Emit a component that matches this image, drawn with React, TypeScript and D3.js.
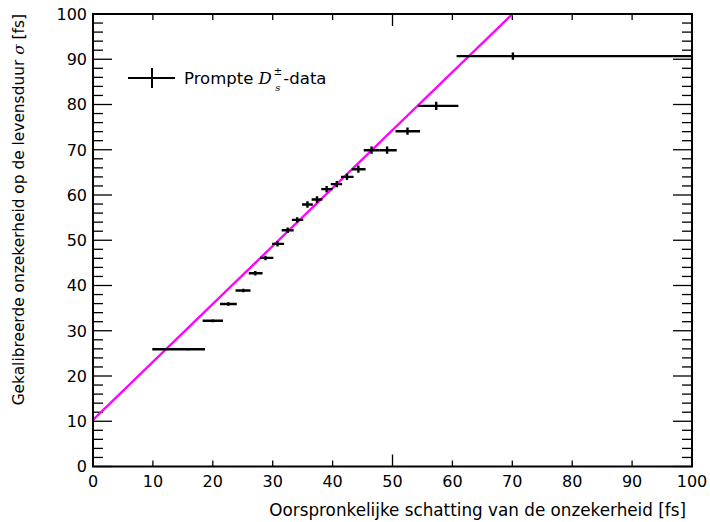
import React from "react";
import * as d3 from "d3";

const xCenter = [15.8, 20.0, 22.6, 25.1, 27.1, 28.8, 30.8, 32.5, 34.1, 35.8, 37.4, 39.0, 40.7, 42.4, 44.3, 46.5, 49.1, 52.5, 57.3, 70.1];
const xLow = [9.9, 18.3, 21.2, 23.8, 26.0, 27.9, 29.9, 31.5, 33.2, 34.9, 36.5, 38.1, 39.7, 41.4, 43.2, 45.2, 47.8, 50.5, 54.3, 60.7];
const xHigh = [18.7, 21.7, 24.0, 26.3, 28.3, 30.1, 31.9, 33.5, 35.1, 36.7, 38.3, 40.0, 41.6, 43.5, 45.5, 47.8, 50.7, 54.6, 61.0, 100];
const yVal = [25.9, 32.2, 35.9, 38.9, 42.7, 46.1, 49.2, 52.2, 54.5, 57.9, 59.0, 61.3, 62.4, 64.0, 65.7, 69.9, 69.9, 74.1, 79.7, 90.7];
const yErr = [0.2, 0.3, 0.4, 0.4, 0.5, 0.5, 0.6, 0.6, 0.6, 0.7, 0.7, 0.7, 0.7, 0.7, 0.8, 0.8, 0.8, 0.8, 0.9, 0.8];

const fitIntercept = 10.3;
const fitSlope = 1.281;

const xTicks = [0, 10, 20, 30, 40, 50, 60, 70, 80, 90, 100];
const yTicks = [0, 10, 20, 30, 40, 50, 60, 70, 80, 90, 100];
const yMinorTicks = d3.range(0, 101, 2);

const xTitle = "Oorspronkelijke schatting van de onzekerheid [fs]";
const yTitle = "Gekalibreerde onzekerheid op de levensduur ";

export default function App() {
  const L = 93, R = 692, T = 14, B = 466.5;
  const x = d3.scaleLinear().domain([0, 100]).range([L, R]);
  const y = d3.scaleLinear().domain([0, 100]).range([B, T]);
  const font = "DejaVu Sans, sans-serif";
  const fs = 16;

  const xEnd = (100 - fitIntercept) / fitSlope;
  const fitLine = d3.line<number>().x((d) => x(d)).y((d) => y(fitIntercept + fitSlope * d))([0, xEnd]);

  return (
    <svg width={710} height={522} style={{ position: "absolute", left: 0, top: 0, background: "#fff" }} fontFamily={font}>
      <defs>
        <clipPath id="plotclip">
          <rect x={L} y={T} width={R - L} height={B - T} />
        </clipPath>
      </defs>
      <rect x={0} y={0} width={710} height={522} fill="#fff" />
      {yMinorTicks.map((t) => {
        const major = t % 10 === 0;
        const len = major ? 19 : 10;
        return (
          <g key={"ym" + t}>
            <line x1={L} x2={L + len} y1={y(t)} y2={y(t)} stroke="#000" strokeWidth={1.3} />
            <line x1={R} x2={R - len} y1={y(t)} y2={y(t)} stroke="#000" strokeWidth={1.3} />
          </g>
        );
      })}
      {xTicks.map((t) => {
        const len = t % 50 === 0 ? 12 : 6;
        return (
          <g key={"xt" + t}>
            <line x1={x(t)} x2={x(t)} y1={B} y2={B - len} stroke="#000" strokeWidth={1.3} />
            <line x1={x(t)} x2={x(t)} y1={T} y2={T + len} stroke="#000" strokeWidth={1.3} />
          </g>
        );
      })}
      <path d={fitLine || ""} stroke="#ff00ff" strokeWidth={2.3} fill="none" clipPath="url(#plotclip)" />
      <g clipPath="url(#plotclip)">
        {xCenter.map((c, i) => (
          <g key={"p" + i}>
            <line x1={x(xLow[i])} x2={x(xHigh[i])} y1={y(yVal[i])} y2={y(yVal[i])} stroke="#000" strokeWidth={2.4} />
            <line x1={x(c)} x2={x(c)} y1={y(yVal[i] - yErr[i])} y2={y(yVal[i] + yErr[i])} stroke="#000" strokeWidth={2.4} />
          </g>
        ))}
      </g>
      <rect x={L} y={T} width={R - L} height={B - T} fill="none" stroke="#000" strokeWidth={2} />
      {yTicks.map((t) => (
        <text key={"yl" + t} x={87} y={y(t)} dy="0.36em" textAnchor="end" fontSize={fs} fill="#000">
          {t}
        </text>
      ))}
      {xTicks.map((t) => (
        <text key={"xl" + t} x={x(t)} y={487} textAnchor="middle" fontSize={fs} fill="#000">
          {t}
        </text>
      ))}
      <text x={686} y={516} textAnchor="end" fontSize={16.8} fill="#000">
        {xTitle}
      </text>
      <text transform={`translate(24, ${T}) rotate(-90)`} textAnchor="end" fontSize={15.4} fill="#000">
        {yTitle}
        <tspan fontFamily="DejaVu Serif, serif" fontStyle="italic">σ</tspan>
        <tspan> [fs]</tspan>
      </text>
      <line x1={128} x2={175} y1={78} y2={78} stroke="#000" strokeWidth={2} />
      <line x1={152} x2={152} y1={68} y2={88} stroke="#000" strokeWidth={2} />
      <text x={184} y={84} fontSize={16.5} fill="#000">
        {"Prompte "}
        <tspan fontFamily="DejaVu Serif, serif" fontStyle="italic">D</tspan>
        <tspan fontSize={10} dx={2} dy={-9}>±</tspan>
        <tspan fontSize={10} fontFamily="DejaVu Serif, serif" fontStyle="italic" dx={-7} dy={16}>s</tspan>
        <tspan dx={3} dy={-7}>-data</tspan>
      </text>
    </svg>
  );
}
